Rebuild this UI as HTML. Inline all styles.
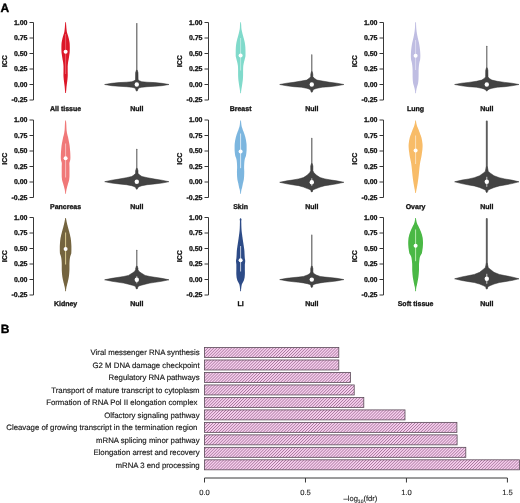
<!DOCTYPE html>
<html><head><meta charset="utf-8"><style>
html,body{margin:0;padding:0;background:#fff;}
svg{display:block;will-change:transform;}
text{font-family:"Liberation Sans",sans-serif;text-rendering:geometricPrecision;}
.tk{font-size:7px;font-weight:bold;fill:#111;stroke:#111;stroke-width:0.3px;}
.lb{font-size:7.8px;fill:#1a1a1a;stroke:#1a1a1a;stroke-width:0.16px;}
.ax{font-size:7.6px;fill:#1a1a1a;stroke:#1a1a1a;stroke-width:0.12px;}
.pl{font-size:12px;font-weight:bold;fill:#000;stroke:#000;stroke-width:0.35px;}
.axl{stroke:#383838;stroke-width:1;fill:none;}
.nv{fill:#434343;stroke:#2c2c2c;stroke-width:0.5;stroke-linejoin:round;}
.bar{fill:url(#hatch);stroke:#5a4a58;stroke-width:0.8;}
</style></head><body>
<svg width="520" height="503" viewBox="0 0 520 503">
<defs>
<pattern id="hatch" patternUnits="userSpaceOnUse" width="2.1" height="2.1" patternTransform="rotate(-45)">
<rect width="2.1" height="2.1" fill="#f2bde6"/>
<rect width="2.1" height="0.6" fill="#9c6c92"/>
<rect y="1.2" width="2.1" height="0.6" fill="#fbe4f6"/>
</pattern>

</defs>
<rect width="520" height="503" fill="#fff"/>
<g>
<path d="M33.5,22.5 V100" class="axl"/>
<path d="M29.5,22.5 H33.5" class="axl"/>
<text x="27.5" y="24.95" text-anchor="end" class="tk">1.00</text>
<path d="M29.5,38 H33.5" class="axl"/>
<text x="27.5" y="40.45" text-anchor="end" class="tk">0.75</text>
<path d="M29.5,53.5 H33.5" class="axl"/>
<text x="27.5" y="55.95" text-anchor="end" class="tk">0.50</text>
<path d="M29.5,69 H33.5" class="axl"/>
<text x="27.5" y="71.45" text-anchor="end" class="tk">0.25</text>
<path d="M29.5,84.5 H33.5" class="axl"/>
<text x="27.5" y="86.95" text-anchor="end" class="tk">0.00</text>
<path d="M29.5,100 H33.5" class="axl"/>
<text x="27.5" y="102.45" text-anchor="end" class="tk">-0.25</text>
<text x="7.35" y="61.2" transform="rotate(-90 7.35 61.2)" text-anchor="middle" class="tk">ICC</text>
<path d="M65.9,22.3 L66.05,22.74 L66.05,23.19 L66.05,23.63 L66.08,24.08 L66.12,24.52 L66.16,24.97 L66.2,25.41 L66.24,25.86 L66.27,26.3 L66.31,26.75 L66.34,27.19 L66.37,27.64 L66.41,28.08 L66.45,28.53 L66.49,28.97 L66.54,29.41 L66.59,29.86 L66.65,30.3 L66.7,30.75 L66.77,31.19 L66.84,31.64 L66.91,32.08 L67.01,32.53 L67.13,32.97 L67.26,33.42 L67.41,33.86 L67.56,34.31 L67.71,34.75 L67.86,35.19 L68,35.64 L68.12,36.08 L68.25,36.53 L68.37,36.97 L68.49,37.42 L68.61,37.86 L68.72,38.31 L68.83,38.75 L68.93,39.2 L69.03,39.64 L69.12,40.09 L69.2,40.53 L69.29,40.98 L69.37,41.42 L69.45,41.86 L69.52,42.31 L69.59,42.75 L69.64,43.2 L69.68,43.64 L69.7,44.09 L69.72,44.53 L69.74,44.98 L69.75,45.42 L69.77,45.87 L69.78,46.31 L69.79,46.76 L69.8,47.2 L69.8,47.65 L69.8,48.09 L69.8,48.53 L69.79,48.98 L69.79,49.42 L69.78,49.87 L69.76,50.31 L69.75,50.76 L69.73,51.2 L69.71,51.65 L69.7,52.09 L69.66,52.54 L69.61,52.98 L69.55,53.43 L69.48,53.87 L69.41,54.32 L69.34,54.76 L69.27,55.2 L69.21,55.65 L69.14,56.09 L69.08,56.54 L69.01,56.98 L68.95,57.43 L68.88,57.87 L68.81,58.32 L68.74,58.76 L68.67,59.21 L68.59,59.65 L68.5,60.1 L68.41,60.54 L68.32,60.98 L68.24,61.43 L68.16,61.87 L68.09,62.32 L68.03,62.76 L67.98,63.21 L67.93,63.65 L67.88,64.1 L67.84,64.54 L67.8,64.99 L67.76,65.43 L67.73,65.88 L67.71,66.32 L67.7,66.77 L67.7,67.21 L67.7,67.65 L67.7,68.1 L67.7,68.54 L67.7,68.99 L67.7,69.43 L67.7,69.88 L67.7,70.32 L67.7,70.77 L67.7,71.21 L67.7,71.66 L67.71,72.1 L67.72,72.55 L67.72,72.99 L67.73,73.44 L67.74,73.88 L67.75,74.32 L67.75,74.77 L67.75,75.21 L67.74,75.66 L67.72,76.1 L67.7,76.55 L67.67,76.99 L67.63,77.44 L67.6,77.88 L67.56,78.33 L67.52,78.77 L67.48,79.22 L67.44,79.66 L67.39,80.11 L67.33,80.55 L67.27,80.99 L67.21,81.44 L67.15,81.88 L67.09,82.33 L67.03,82.77 L66.97,83.22 L66.92,83.66 L66.86,84.11 L66.8,84.55 L66.74,85 L66.68,85.44 L66.63,85.89 L66.57,86.33 L66.52,86.77 L66.48,87.22 L66.44,87.66 L66.4,88.11 L66.37,88.55 L66.33,89 L66.29,89.44 L66.26,89.89 L66.22,90.33 L66.17,90.78 L66.12,91.22 L66.07,91.67 L66.05,92.11 L66.05,92.56 L65.9,93 L65.3,93 L65.15,92.56 L65.15,92.11 L65.13,91.67 L65.08,91.22 L65.03,90.78 L64.98,90.33 L64.94,89.89 L64.91,89.44 L64.87,89 L64.83,88.55 L64.8,88.11 L64.76,87.66 L64.72,87.22 L64.68,86.77 L64.63,86.33 L64.57,85.89 L64.52,85.44 L64.46,85 L64.4,84.55 L64.34,84.11 L64.28,83.66 L64.23,83.22 L64.17,82.77 L64.11,82.33 L64.05,81.88 L63.99,81.44 L63.93,80.99 L63.87,80.55 L63.81,80.11 L63.76,79.66 L63.72,79.22 L63.68,78.77 L63.64,78.33 L63.6,77.88 L63.57,77.44 L63.53,76.99 L63.5,76.55 L63.48,76.1 L63.46,75.66 L63.45,75.21 L63.45,74.77 L63.45,74.32 L63.46,73.88 L63.47,73.44 L63.48,72.99 L63.48,72.55 L63.49,72.1 L63.5,71.66 L63.5,71.21 L63.5,70.77 L63.5,70.32 L63.5,69.88 L63.5,69.43 L63.5,68.99 L63.5,68.54 L63.5,68.1 L63.5,67.65 L63.5,67.21 L63.5,66.77 L63.49,66.32 L63.47,65.88 L63.44,65.43 L63.4,64.99 L63.36,64.54 L63.32,64.1 L63.27,63.65 L63.22,63.21 L63.17,62.76 L63.11,62.32 L63.04,61.87 L62.96,61.43 L62.88,60.98 L62.79,60.54 L62.7,60.1 L62.61,59.65 L62.53,59.21 L62.46,58.76 L62.39,58.32 L62.32,57.87 L62.25,57.43 L62.19,56.98 L62.12,56.54 L62.06,56.09 L61.99,55.65 L61.93,55.2 L61.86,54.76 L61.79,54.32 L61.72,53.87 L61.65,53.43 L61.59,52.98 L61.54,52.54 L61.5,52.09 L61.49,51.65 L61.47,51.2 L61.45,50.76 L61.44,50.31 L61.42,49.87 L61.41,49.42 L61.41,48.98 L61.4,48.53 L61.4,48.09 L61.4,47.65 L61.4,47.2 L61.41,46.76 L61.42,46.31 L61.43,45.87 L61.45,45.42 L61.46,44.98 L61.48,44.53 L61.5,44.09 L61.52,43.64 L61.56,43.2 L61.61,42.75 L61.68,42.31 L61.75,41.86 L61.83,41.42 L61.91,40.98 L62,40.53 L62.08,40.09 L62.17,39.64 L62.27,39.2 L62.37,38.75 L62.48,38.31 L62.59,37.86 L62.71,37.42 L62.83,36.97 L62.95,36.53 L63.08,36.08 L63.2,35.64 L63.34,35.19 L63.49,34.75 L63.64,34.31 L63.79,33.86 L63.94,33.42 L64.07,32.97 L64.19,32.53 L64.29,32.08 L64.36,31.64 L64.43,31.19 L64.5,30.75 L64.55,30.3 L64.61,29.86 L64.66,29.41 L64.71,28.97 L64.75,28.53 L64.79,28.08 L64.83,27.64 L64.86,27.19 L64.89,26.75 L64.93,26.3 L64.96,25.86 L65,25.41 L65.04,24.97 L65.08,24.52 L65.12,24.08 L65.15,23.63 L65.15,23.19 L65.15,22.74 L65.3,22.3Z" fill="#dc1728"/>
<path d="M65.6,34 V74" stroke="#fff" stroke-opacity="0.3" stroke-width="1"/>
<circle cx="65.6" cy="51.7" r="2" fill="#fff"/>
<text x="65.6" y="111.1" text-anchor="middle" class="tk">All tissue</text>
<path d="M137.15,70.1 L138,72.6 L138.1,79.66 L139.4,80.8 L141.7,81.68 L147,82.2 L154.5,82.6 L161.8,83.3 L169,84.5 L161.8,85.7 L154.5,86.3 L147,86.7 L141.7,87.3 L139.4,87.8 L138,88.7 L137.7,90.1 L137.1,91.1 L136.5,91.1 L135.9,90.1 L135.6,88.7 L134.2,87.8 L131.9,87.3 L126.6,86.7 L119.1,86.3 L111.8,85.7 L104.6,84.5 L111.8,83.3 L119.1,82.6 L126.6,82.2 L131.9,81.68 L134.2,80.8 L135.5,79.66 L135.6,72.6 L136.45,70.1Z" class="nv"/>
<path d="M136.8,23.5 V72.1" stroke="#4a4a4a" stroke-width="1.15" stroke-opacity="0.9" stroke-linecap="round"/>
<circle cx="136.8" cy="84.5" r="2.2" fill="#fff"/>
<text x="136.8" y="111.1" text-anchor="middle" class="tk">Null</text>
<path d="M208.5,22.5 V100" class="axl"/>
<path d="M204.5,22.5 H208.5" class="axl"/>
<text x="202.5" y="24.95" text-anchor="end" class="tk">1.00</text>
<path d="M204.5,38 H208.5" class="axl"/>
<text x="202.5" y="40.45" text-anchor="end" class="tk">0.75</text>
<path d="M204.5,53.5 H208.5" class="axl"/>
<text x="202.5" y="55.95" text-anchor="end" class="tk">0.50</text>
<path d="M204.5,69 H208.5" class="axl"/>
<text x="202.5" y="71.45" text-anchor="end" class="tk">0.25</text>
<path d="M204.5,84.5 H208.5" class="axl"/>
<text x="202.5" y="86.95" text-anchor="end" class="tk">0.00</text>
<path d="M204.5,100 H208.5" class="axl"/>
<text x="202.5" y="102.45" text-anchor="end" class="tk">-0.25</text>
<text x="182.35" y="61.2" transform="rotate(-90 182.35 61.2)" text-anchor="middle" class="tk">ICC</text>
<path d="M240.9,22.3 L241.05,22.75 L241.05,23.19 L241.07,23.64 L241.12,24.08 L241.16,24.53 L241.2,24.98 L241.23,25.42 L241.25,25.87 L241.27,26.31 L241.28,26.76 L241.3,27.21 L241.33,27.65 L241.36,28.1 L241.41,28.54 L241.47,28.99 L241.54,29.43 L241.63,29.88 L241.73,30.33 L241.83,30.77 L241.93,31.22 L242.03,31.66 L242.12,32.11 L242.22,32.56 L242.33,33 L242.44,33.45 L242.55,33.89 L242.66,34.34 L242.78,34.79 L242.9,35.23 L243.02,35.68 L243.13,36.12 L243.25,36.57 L243.38,37.02 L243.51,37.46 L243.64,37.91 L243.77,38.35 L243.89,38.8 L244.01,39.24 L244.13,39.69 L244.23,40.14 L244.33,40.58 L244.44,41.03 L244.54,41.47 L244.63,41.92 L244.72,42.37 L244.81,42.81 L244.89,43.26 L244.96,43.7 L245.02,44.15 L245.08,44.6 L245.14,45.04 L245.19,45.49 L245.24,45.93 L245.29,46.38 L245.33,46.83 L245.36,47.27 L245.39,47.72 L245.41,48.16 L245.42,48.61 L245.44,49.05 L245.46,49.5 L245.47,49.95 L245.48,50.39 L245.49,50.84 L245.5,51.28 L245.5,51.73 L245.5,52.18 L245.5,52.62 L245.5,53.07 L245.5,53.51 L245.5,53.96 L245.5,54.41 L245.5,54.85 L245.5,55.3 L245.49,55.74 L245.45,56.19 L245.38,56.64 L245.29,57.08 L245.18,57.53 L245.06,57.97 L244.94,58.42 L244.83,58.86 L244.73,59.31 L244.62,59.76 L244.5,60.2 L244.38,60.65 L244.26,61.09 L244.14,61.54 L244.02,61.99 L243.92,62.43 L243.82,62.88 L243.74,63.32 L243.65,63.77 L243.57,64.22 L243.49,64.66 L243.41,65.11 L243.34,65.55 L243.28,66 L243.24,66.45 L243.21,66.89 L243.19,67.34 L243.17,67.78 L243.15,68.23 L243.14,68.67 L243.13,69.12 L243.12,69.57 L243.11,70.01 L243.1,70.46 L243.1,70.9 L243.1,71.35 L243.1,71.8 L243.1,72.24 L243.1,72.69 L243.1,73.13 L243.1,73.58 L243.1,74.03 L243.1,74.47 L243.1,74.92 L243.1,75.36 L243.09,75.81 L243.07,76.26 L243.05,76.7 L243.03,77.15 L243,77.59 L242.97,78.04 L242.94,78.48 L242.9,78.93 L242.87,79.38 L242.83,79.82 L242.78,80.27 L242.72,80.71 L242.66,81.16 L242.6,81.61 L242.53,82.05 L242.47,82.5 L242.41,82.94 L242.35,83.39 L242.28,83.84 L242.22,84.28 L242.15,84.73 L242.08,85.17 L242.02,85.62 L241.95,86.07 L241.88,86.51 L241.81,86.96 L241.73,87.4 L241.66,87.85 L241.58,88.29 L241.5,88.74 L241.43,89.19 L241.35,89.63 L241.29,90.08 L241.23,90.52 L241.17,90.97 L241.11,91.42 L241.05,91.86 L241.05,92.31 L241.05,92.75 L240.9,93.2 L240.3,93.2 L240.15,92.75 L240.15,92.31 L240.15,91.86 L240.09,91.42 L240.03,90.97 L239.97,90.52 L239.91,90.08 L239.85,89.63 L239.77,89.19 L239.7,88.74 L239.62,88.29 L239.54,87.85 L239.47,87.4 L239.39,86.96 L239.32,86.51 L239.25,86.07 L239.18,85.62 L239.12,85.17 L239.05,84.73 L238.98,84.28 L238.92,83.84 L238.85,83.39 L238.79,82.94 L238.73,82.5 L238.67,82.05 L238.6,81.61 L238.54,81.16 L238.48,80.71 L238.42,80.27 L238.37,79.82 L238.33,79.38 L238.3,78.93 L238.26,78.48 L238.23,78.04 L238.2,77.59 L238.17,77.15 L238.15,76.7 L238.13,76.26 L238.11,75.81 L238.1,75.36 L238.1,74.92 L238.1,74.47 L238.1,74.03 L238.1,73.58 L238.1,73.13 L238.1,72.69 L238.1,72.24 L238.1,71.8 L238.1,71.35 L238.1,70.9 L238.1,70.46 L238.09,70.01 L238.08,69.57 L238.07,69.12 L238.06,68.67 L238.05,68.23 L238.03,67.78 L238.01,67.34 L237.99,66.89 L237.96,66.45 L237.92,66 L237.86,65.55 L237.79,65.11 L237.71,64.66 L237.63,64.22 L237.55,63.77 L237.46,63.32 L237.38,62.88 L237.28,62.43 L237.18,61.99 L237.06,61.54 L236.94,61.09 L236.82,60.65 L236.7,60.2 L236.58,59.76 L236.47,59.31 L236.37,58.86 L236.26,58.42 L236.14,57.97 L236.02,57.53 L235.91,57.08 L235.82,56.64 L235.75,56.19 L235.71,55.74 L235.7,55.3 L235.7,54.85 L235.7,54.41 L235.7,53.96 L235.7,53.51 L235.7,53.07 L235.7,52.62 L235.7,52.18 L235.7,51.73 L235.7,51.28 L235.71,50.84 L235.72,50.39 L235.73,49.95 L235.74,49.5 L235.76,49.05 L235.78,48.61 L235.79,48.16 L235.81,47.72 L235.84,47.27 L235.87,46.83 L235.91,46.38 L235.96,45.93 L236.01,45.49 L236.06,45.04 L236.12,44.6 L236.18,44.15 L236.24,43.7 L236.31,43.26 L236.39,42.81 L236.48,42.37 L236.57,41.92 L236.66,41.47 L236.76,41.03 L236.87,40.58 L236.97,40.14 L237.07,39.69 L237.19,39.24 L237.31,38.8 L237.43,38.35 L237.56,37.91 L237.69,37.46 L237.82,37.02 L237.95,36.57 L238.07,36.12 L238.18,35.68 L238.3,35.23 L238.42,34.79 L238.54,34.34 L238.65,33.89 L238.76,33.45 L238.87,33 L238.98,32.56 L239.08,32.11 L239.17,31.66 L239.27,31.22 L239.37,30.77 L239.47,30.33 L239.57,29.88 L239.66,29.43 L239.73,28.99 L239.79,28.54 L239.84,28.1 L239.87,27.65 L239.9,27.21 L239.92,26.76 L239.93,26.31 L239.95,25.87 L239.97,25.42 L240,24.98 L240.04,24.53 L240.08,24.08 L240.13,23.64 L240.15,23.19 L240.15,22.75 L240.3,22.3Z" fill="#80dacb"/>
<path d="M240.6,38 V70.5" stroke="#fff" stroke-opacity="0.45" stroke-width="1"/>
<circle cx="240.6" cy="55.4" r="2" fill="#fff"/>
<text x="240.6" y="111.1" text-anchor="middle" class="tk">Breast</text>
<path d="M312.15,71.6 L312.8,74.1 L312.9,76.76 L314.6,78.52 L316.9,80.1 L322.2,81 L329.7,82.3 L336.8,83.2 L343.9,84.5 L336.8,85.8 L329.7,86.7 L322.2,87.2 L316.9,88.3 L314.6,89 L312.9,90.1 L312.7,91.2 L312.1,92.2 L311.5,92.2 L310.9,91.2 L310.7,90.1 L309,89 L306.7,88.3 L301.4,87.2 L293.9,86.7 L286.8,85.8 L279.7,84.5 L286.8,83.2 L293.9,82.3 L301.4,81 L306.7,80.1 L309,78.52 L310.7,76.76 L310.8,74.1 L311.45,71.6Z" class="nv"/>
<path d="M311.8,54.8 V73.6" stroke="#4a4a4a" stroke-width="1.1" stroke-opacity="0.9" stroke-linecap="round"/>
<circle cx="311.8" cy="84.5" r="2.2" fill="#fff"/>
<text x="311.8" y="111.1" text-anchor="middle" class="tk">Null</text>
<path d="M383.5,22.5 V100" class="axl"/>
<path d="M379.5,22.5 H383.5" class="axl"/>
<text x="377.5" y="24.95" text-anchor="end" class="tk">1.00</text>
<path d="M379.5,38 H383.5" class="axl"/>
<text x="377.5" y="40.45" text-anchor="end" class="tk">0.75</text>
<path d="M379.5,53.5 H383.5" class="axl"/>
<text x="377.5" y="55.95" text-anchor="end" class="tk">0.50</text>
<path d="M379.5,69 H383.5" class="axl"/>
<text x="377.5" y="71.45" text-anchor="end" class="tk">0.25</text>
<path d="M379.5,84.5 H383.5" class="axl"/>
<text x="377.5" y="86.95" text-anchor="end" class="tk">0.00</text>
<path d="M379.5,100 H383.5" class="axl"/>
<text x="377.5" y="102.45" text-anchor="end" class="tk">-0.25</text>
<text x="357.35" y="61.2" transform="rotate(-90 357.35 61.2)" text-anchor="middle" class="tk">ICC</text>
<path d="M415.9,22.3 L416.05,22.75 L416.05,23.19 L416.05,23.64 L416.05,24.08 L416.07,24.53 L416.1,24.98 L416.12,25.42 L416.14,25.87 L416.16,26.31 L416.18,26.76 L416.2,27.21 L416.23,27.65 L416.26,28.1 L416.29,28.54 L416.33,28.99 L416.38,29.43 L416.43,29.88 L416.48,30.33 L416.54,30.77 L416.59,31.22 L416.65,31.66 L416.72,32.11 L416.78,32.56 L416.85,33 L416.92,33.45 L417,33.89 L417.08,34.34 L417.16,34.79 L417.25,35.23 L417.34,35.68 L417.42,36.12 L417.52,36.57 L417.61,37.02 L417.71,37.46 L417.81,37.91 L417.92,38.35 L418.02,38.8 L418.13,39.24 L418.23,39.69 L418.33,40.14 L418.43,40.58 L418.54,41.03 L418.65,41.47 L418.75,41.92 L418.86,42.37 L418.96,42.81 L419.06,43.26 L419.14,43.7 L419.23,44.15 L419.3,44.6 L419.38,45.04 L419.45,45.49 L419.52,45.93 L419.59,46.38 L419.65,46.83 L419.71,47.27 L419.77,47.72 L419.82,48.16 L419.87,48.61 L419.93,49.05 L419.98,49.5 L420.03,49.95 L420.07,50.39 L420.11,50.84 L420.15,51.28 L420.18,51.73 L420.21,52.18 L420.24,52.62 L420.26,53.07 L420.28,53.51 L420.3,53.96 L420.32,54.41 L420.34,54.85 L420.35,55.3 L420.35,55.74 L420.35,56.19 L420.34,56.64 L420.32,57.08 L420.3,57.53 L420.27,57.97 L420.24,58.42 L420.21,58.86 L420.17,59.31 L420.1,59.76 L420,60.2 L419.89,60.65 L419.77,61.09 L419.64,61.54 L419.52,61.99 L419.41,62.43 L419.32,62.88 L419.25,63.32 L419.18,63.77 L419.11,64.22 L419.05,64.66 L418.99,65.11 L418.94,65.55 L418.89,66 L418.84,66.45 L418.81,66.89 L418.78,67.34 L418.74,67.78 L418.71,68.23 L418.68,68.67 L418.66,69.12 L418.64,69.57 L418.62,70.01 L418.61,70.46 L418.6,70.9 L418.6,71.35 L418.6,71.8 L418.6,72.24 L418.6,72.69 L418.6,73.13 L418.6,73.58 L418.6,74.03 L418.6,74.47 L418.6,74.92 L418.6,75.36 L418.59,75.81 L418.59,76.26 L418.58,76.7 L418.57,77.15 L418.55,77.59 L418.54,78.04 L418.52,78.48 L418.5,78.93 L418.48,79.38 L418.46,79.82 L418.42,80.27 L418.38,80.71 L418.34,81.16 L418.29,81.61 L418.23,82.05 L418.17,82.5 L418.11,82.94 L418.03,83.39 L417.93,83.84 L417.82,84.28 L417.69,84.73 L417.55,85.17 L417.41,85.62 L417.27,86.07 L417.13,86.51 L417.01,86.96 L416.9,87.4 L416.78,87.85 L416.66,88.29 L416.56,88.74 L416.46,89.19 L416.38,89.63 L416.3,90.08 L416.23,90.52 L416.16,90.97 L416.09,91.42 L416.05,91.86 L416.05,92.31 L416.05,92.75 L415.9,93.2 L415.3,93.2 L415.15,92.75 L415.15,92.31 L415.15,91.86 L415.11,91.42 L415.04,90.97 L414.97,90.52 L414.9,90.08 L414.82,89.63 L414.74,89.19 L414.64,88.74 L414.54,88.29 L414.42,87.85 L414.3,87.4 L414.19,86.96 L414.07,86.51 L413.93,86.07 L413.79,85.62 L413.65,85.17 L413.51,84.73 L413.38,84.28 L413.27,83.84 L413.17,83.39 L413.09,82.94 L413.03,82.5 L412.97,82.05 L412.91,81.61 L412.86,81.16 L412.82,80.71 L412.78,80.27 L412.74,79.82 L412.72,79.38 L412.7,78.93 L412.68,78.48 L412.66,78.04 L412.65,77.59 L412.63,77.15 L412.62,76.7 L412.61,76.26 L412.61,75.81 L412.6,75.36 L412.6,74.92 L412.6,74.47 L412.6,74.03 L412.6,73.58 L412.6,73.13 L412.6,72.69 L412.6,72.24 L412.6,71.8 L412.6,71.35 L412.6,70.9 L412.59,70.46 L412.58,70.01 L412.56,69.57 L412.54,69.12 L412.52,68.67 L412.49,68.23 L412.46,67.78 L412.42,67.34 L412.39,66.89 L412.36,66.45 L412.31,66 L412.26,65.55 L412.21,65.11 L412.15,64.66 L412.09,64.22 L412.02,63.77 L411.95,63.32 L411.88,62.88 L411.79,62.43 L411.68,61.99 L411.56,61.54 L411.43,61.09 L411.31,60.65 L411.2,60.2 L411.1,59.76 L411.03,59.31 L410.99,58.86 L410.96,58.42 L410.93,57.97 L410.9,57.53 L410.88,57.08 L410.86,56.64 L410.85,56.19 L410.85,55.74 L410.85,55.3 L410.86,54.85 L410.88,54.41 L410.9,53.96 L410.92,53.51 L410.94,53.07 L410.96,52.62 L410.99,52.18 L411.02,51.73 L411.05,51.28 L411.09,50.84 L411.13,50.39 L411.17,49.95 L411.22,49.5 L411.27,49.05 L411.33,48.61 L411.38,48.16 L411.43,47.72 L411.49,47.27 L411.55,46.83 L411.61,46.38 L411.68,45.93 L411.75,45.49 L411.82,45.04 L411.9,44.6 L411.97,44.15 L412.06,43.7 L412.14,43.26 L412.24,42.81 L412.34,42.37 L412.45,41.92 L412.55,41.47 L412.66,41.03 L412.77,40.58 L412.87,40.14 L412.97,39.69 L413.07,39.24 L413.18,38.8 L413.28,38.35 L413.39,37.91 L413.49,37.46 L413.59,37.02 L413.68,36.57 L413.78,36.12 L413.86,35.68 L413.95,35.23 L414.04,34.79 L414.12,34.34 L414.2,33.89 L414.28,33.45 L414.35,33 L414.42,32.56 L414.48,32.11 L414.55,31.66 L414.61,31.22 L414.66,30.77 L414.72,30.33 L414.77,29.88 L414.82,29.43 L414.87,28.99 L414.91,28.54 L414.94,28.1 L414.97,27.65 L415,27.21 L415.02,26.76 L415.04,26.31 L415.06,25.87 L415.08,25.42 L415.1,24.98 L415.13,24.53 L415.15,24.08 L415.15,23.64 L415.15,23.19 L415.15,22.75 L415.3,22.3Z" fill="#bfbde2"/>
<path d="M415.6,40 V70" stroke="#fff" stroke-opacity="0.45" stroke-width="1"/>
<circle cx="415.6" cy="55.8" r="2" fill="#fff"/>
<text x="415.6" y="111.1" text-anchor="middle" class="tk">Lung</text>
<path d="M487.15,67.8 L487.9,70.3 L488,76.93 L489.6,78.69 L491.9,80.1 L497.2,81.3 L504.7,82.4 L511.8,83.2 L519,84.5 L511.8,85.8 L504.7,86.7 L497.2,87.2 L491.9,88.3 L489.6,88.9 L487.9,89.9 L487.7,90.1 L487.1,91.1 L486.5,91.1 L485.9,90.1 L485.7,89.9 L484,88.9 L481.7,88.3 L476.4,87.2 L468.9,86.7 L461.8,85.8 L454.6,84.5 L461.8,83.2 L468.9,82.4 L476.4,81.3 L481.7,80.1 L484,78.69 L485.6,76.93 L485.7,70.3 L486.45,67.8Z" class="nv"/>
<path d="M486.8,46.3 V69.8" stroke="#4a4a4a" stroke-width="1.1" stroke-opacity="0.9" stroke-linecap="round"/>
<circle cx="486.8" cy="84.5" r="2.2" fill="#fff"/>
<text x="486.8" y="111.1" text-anchor="middle" class="tk">Null</text>
<path d="M33.5,120 V197.5" class="axl"/>
<path d="M29.5,120 H33.5" class="axl"/>
<text x="27.5" y="122.45" text-anchor="end" class="tk">1.00</text>
<path d="M29.5,135.5 H33.5" class="axl"/>
<text x="27.5" y="137.95" text-anchor="end" class="tk">0.75</text>
<path d="M29.5,151 H33.5" class="axl"/>
<text x="27.5" y="153.45" text-anchor="end" class="tk">0.50</text>
<path d="M29.5,166.5 H33.5" class="axl"/>
<text x="27.5" y="168.95" text-anchor="end" class="tk">0.25</text>
<path d="M29.5,182 H33.5" class="axl"/>
<text x="27.5" y="184.45" text-anchor="end" class="tk">0.00</text>
<path d="M29.5,197.5 H33.5" class="axl"/>
<text x="27.5" y="199.95" text-anchor="end" class="tk">-0.25</text>
<text x="7.35" y="158.7" transform="rotate(-90 7.35 158.7)" text-anchor="middle" class="tk">ICC</text>
<path d="M65.9,120.5 L66.05,120.96 L66.05,121.42 L66.09,121.88 L66.15,122.34 L66.19,122.8 L66.23,123.26 L66.26,123.72 L66.29,124.18 L66.31,124.64 L66.33,125.1 L66.35,125.56 L66.37,126.02 L66.39,126.48 L66.41,126.95 L66.43,127.41 L66.45,127.87 L66.48,128.33 L66.5,128.79 L66.53,129.25 L66.57,129.71 L66.61,130.17 L66.66,130.63 L66.72,131.09 L66.78,131.55 L66.85,132.01 L66.92,132.47 L67,132.93 L67.08,133.39 L67.17,133.85 L67.27,134.31 L67.38,134.77 L67.5,135.23 L67.63,135.69 L67.76,136.15 L67.88,136.61 L68,137.07 L68.11,137.53 L68.21,137.99 L68.31,138.45 L68.4,138.92 L68.49,139.38 L68.58,139.84 L68.67,140.3 L68.76,140.76 L68.85,141.22 L68.93,141.68 L69.02,142.14 L69.11,142.6 L69.2,143.06 L69.28,143.52 L69.37,143.98 L69.44,144.44 L69.52,144.9 L69.58,145.36 L69.64,145.82 L69.69,146.28 L69.74,146.74 L69.79,147.2 L69.84,147.66 L69.88,148.12 L69.92,148.58 L69.96,149.04 L70,149.5 L70.04,149.96 L70.08,150.42 L70.12,150.88 L70.16,151.35 L70.2,151.81 L70.23,152.27 L70.26,152.73 L70.29,153.19 L70.31,153.65 L70.32,154.11 L70.34,154.57 L70.35,155.03 L70.37,155.49 L70.38,155.95 L70.39,156.41 L70.4,156.87 L70.4,157.33 L70.4,157.79 L70.38,158.25 L70.36,158.71 L70.32,159.17 L70.29,159.63 L70.21,160.09 L70.1,160.55 L69.97,161.01 L69.82,161.47 L69.68,161.93 L69.55,162.39 L69.46,162.85 L69.4,163.32 L69.4,163.78 L69.41,164.24 L69.42,164.7 L69.44,165.16 L69.45,165.62 L69.47,166.08 L69.49,166.54 L69.5,167 L69.5,167.46 L69.5,167.92 L69.5,168.38 L69.5,168.84 L69.5,169.3 L69.5,169.76 L69.5,170.22 L69.5,170.68 L69.5,171.14 L69.5,171.6 L69.5,172.06 L69.5,172.52 L69.5,172.98 L69.5,173.44 L69.5,173.9 L69.5,174.36 L69.5,174.82 L69.5,175.28 L69.5,175.75 L69.49,176.21 L69.47,176.67 L69.44,177.13 L69.4,177.59 L69.36,178.05 L69.31,178.51 L69.26,178.97 L69.21,179.43 L69.14,179.89 L69.05,180.35 L68.93,180.81 L68.8,181.27 L68.66,181.73 L68.51,182.19 L68.36,182.65 L68.21,183.11 L68.08,183.57 L67.95,184.03 L67.82,184.49 L67.69,184.95 L67.56,185.41 L67.44,185.87 L67.31,186.33 L67.18,186.79 L67.06,187.25 L66.94,187.72 L66.82,188.18 L66.7,188.64 L66.59,189.1 L66.49,189.56 L66.4,190.02 L66.32,190.48 L66.24,190.94 L66.17,191.4 L66.1,191.86 L66.05,192.32 L66.05,192.78 L66.05,193.24 L65.9,193.7 L65.3,193.7 L65.15,193.24 L65.15,192.78 L65.15,192.32 L65.1,191.86 L65.03,191.4 L64.96,190.94 L64.88,190.48 L64.8,190.02 L64.71,189.56 L64.61,189.1 L64.5,188.64 L64.38,188.18 L64.26,187.72 L64.14,187.25 L64.02,186.79 L63.89,186.33 L63.76,185.87 L63.64,185.41 L63.51,184.95 L63.38,184.49 L63.25,184.03 L63.12,183.57 L62.99,183.11 L62.84,182.65 L62.69,182.19 L62.54,181.73 L62.4,181.27 L62.27,180.81 L62.15,180.35 L62.06,179.89 L61.99,179.43 L61.94,178.97 L61.89,178.51 L61.84,178.05 L61.8,177.59 L61.76,177.13 L61.73,176.67 L61.71,176.21 L61.7,175.75 L61.7,175.28 L61.7,174.82 L61.7,174.36 L61.7,173.9 L61.7,173.44 L61.7,172.98 L61.7,172.52 L61.7,172.06 L61.7,171.6 L61.7,171.14 L61.7,170.68 L61.7,170.22 L61.7,169.76 L61.7,169.3 L61.7,168.84 L61.7,168.38 L61.7,167.92 L61.7,167.46 L61.7,167 L61.71,166.54 L61.73,166.08 L61.75,165.62 L61.76,165.16 L61.78,164.7 L61.79,164.24 L61.8,163.78 L61.8,163.32 L61.74,162.85 L61.65,162.39 L61.52,161.93 L61.38,161.47 L61.23,161.01 L61.1,160.55 L60.99,160.09 L60.91,159.63 L60.88,159.17 L60.84,158.71 L60.82,158.25 L60.8,157.79 L60.8,157.33 L60.8,156.87 L60.81,156.41 L60.82,155.95 L60.83,155.49 L60.85,155.03 L60.86,154.57 L60.88,154.11 L60.89,153.65 L60.91,153.19 L60.94,152.73 L60.97,152.27 L61,151.81 L61.04,151.35 L61.08,150.88 L61.12,150.42 L61.16,149.96 L61.2,149.5 L61.24,149.04 L61.28,148.58 L61.32,148.12 L61.36,147.66 L61.41,147.2 L61.46,146.74 L61.51,146.28 L61.56,145.82 L61.62,145.36 L61.68,144.9 L61.76,144.44 L61.83,143.98 L61.92,143.52 L62,143.06 L62.09,142.6 L62.18,142.14 L62.27,141.68 L62.35,141.22 L62.44,140.76 L62.53,140.3 L62.62,139.84 L62.71,139.38 L62.8,138.92 L62.89,138.45 L62.99,137.99 L63.09,137.53 L63.2,137.07 L63.32,136.61 L63.44,136.15 L63.57,135.69 L63.7,135.23 L63.82,134.77 L63.93,134.31 L64.03,133.85 L64.12,133.39 L64.2,132.93 L64.28,132.47 L64.35,132.01 L64.42,131.55 L64.48,131.09 L64.54,130.63 L64.59,130.17 L64.63,129.71 L64.67,129.25 L64.7,128.79 L64.72,128.33 L64.75,127.87 L64.77,127.41 L64.79,126.95 L64.81,126.48 L64.83,126.02 L64.85,125.56 L64.87,125.1 L64.89,124.64 L64.91,124.18 L64.94,123.72 L64.97,123.26 L65.01,122.8 L65.05,122.34 L65.11,121.88 L65.15,121.42 L65.15,120.96 L65.3,120.5Z" fill="#f07878"/>
<path d="M65.6,143.5 V177.5" stroke="#fff" stroke-opacity="0.5" stroke-width="1"/>
<circle cx="65.6" cy="158.2" r="2" fill="#fff"/>
<text x="65.6" y="208.6" text-anchor="middle" class="tk">Pancreas</text>
<path d="M137.15,168.2 L138,170.7 L138,173.34 L139.6,175.01 L141.9,176.51 L147.2,177.7 L154.7,179.1 L161.8,180.2 L168.9,181.7 L161.8,183.1 L154.7,183.9 L147.2,184.7 L141.9,185.7 L139.6,186.5 L137.9,187.5 L137.7,188.2 L137.1,189.2 L136.5,189.2 L135.9,188.2 L135.7,187.5 L134,186.5 L131.7,185.7 L126.4,184.7 L118.9,183.9 L111.8,183.1 L104.7,181.7 L111.8,180.2 L118.9,179.1 L126.4,177.7 L131.7,176.51 L134,175.01 L135.6,173.34 L135.6,170.7 L136.45,168.2Z" class="nv"/>
<path d="M136.8,149.3 V170.2" stroke="#4a4a4a" stroke-width="1.1" stroke-opacity="0.9" stroke-linecap="round"/>
<circle cx="136.8" cy="181.7" r="2.2" fill="#fff"/>
<text x="136.8" y="208.6" text-anchor="middle" class="tk">Null</text>
<path d="M208.5,120 V197.5" class="axl"/>
<path d="M204.5,120 H208.5" class="axl"/>
<text x="202.5" y="122.45" text-anchor="end" class="tk">1.00</text>
<path d="M204.5,135.5 H208.5" class="axl"/>
<text x="202.5" y="137.95" text-anchor="end" class="tk">0.75</text>
<path d="M204.5,151 H208.5" class="axl"/>
<text x="202.5" y="153.45" text-anchor="end" class="tk">0.50</text>
<path d="M204.5,166.5 H208.5" class="axl"/>
<text x="202.5" y="168.95" text-anchor="end" class="tk">0.25</text>
<path d="M204.5,182 H208.5" class="axl"/>
<text x="202.5" y="184.45" text-anchor="end" class="tk">0.00</text>
<path d="M204.5,197.5 H208.5" class="axl"/>
<text x="202.5" y="199.95" text-anchor="end" class="tk">-0.25</text>
<text x="182.35" y="158.7" transform="rotate(-90 182.35 158.7)" text-anchor="middle" class="tk">ICC</text>
<path d="M240.9,120.5 L241.05,120.96 L241.05,121.42 L241.07,121.88 L241.12,122.34 L241.18,122.8 L241.23,123.26 L241.28,123.72 L241.33,124.18 L241.38,124.64 L241.44,125.1 L241.51,125.56 L241.6,126.02 L241.71,126.48 L241.84,126.95 L241.99,127.41 L242.14,127.87 L242.3,128.33 L242.46,128.79 L242.61,129.25 L242.77,129.71 L242.94,130.17 L243.11,130.63 L243.29,131.09 L243.47,131.55 L243.65,132.01 L243.83,132.47 L244,132.93 L244.16,133.39 L244.32,133.85 L244.47,134.31 L244.62,134.77 L244.76,135.23 L244.91,135.69 L245.04,136.15 L245.17,136.61 L245.29,137.07 L245.41,137.53 L245.52,137.99 L245.62,138.45 L245.73,138.92 L245.83,139.38 L245.92,139.84 L246.01,140.3 L246.09,140.76 L246.16,141.22 L246.22,141.68 L246.29,142.14 L246.35,142.6 L246.41,143.06 L246.47,143.52 L246.52,143.98 L246.56,144.44 L246.59,144.9 L246.6,145.36 L246.6,145.82 L246.6,146.28 L246.6,146.74 L246.6,147.2 L246.6,147.66 L246.6,148.12 L246.6,148.58 L246.6,149.04 L246.6,149.5 L246.59,149.96 L246.57,150.42 L246.54,150.88 L246.5,151.35 L246.46,151.81 L246.42,152.27 L246.38,152.73 L246.33,153.19 L246.28,153.65 L246.22,154.11 L246.16,154.57 L246.08,155.03 L246,155.49 L245.9,155.95 L245.76,156.41 L245.59,156.87 L245.41,157.33 L245.23,157.79 L245.05,158.25 L244.89,158.71 L244.77,159.17 L244.68,159.63 L244.61,160.09 L244.54,160.55 L244.48,161.01 L244.42,161.47 L244.37,161.93 L244.33,162.39 L244.29,162.85 L244.26,163.32 L244.23,163.78 L244.21,164.24 L244.18,164.7 L244.16,165.16 L244.14,165.62 L244.13,166.08 L244.11,166.54 L244.1,167 L244.1,167.46 L244.1,167.92 L244.12,168.38 L244.14,168.84 L244.16,169.3 L244.19,169.76 L244.21,170.22 L244.23,170.68 L244.25,171.14 L244.25,171.6 L244.25,172.06 L244.24,172.52 L244.23,172.98 L244.22,173.44 L244.21,173.9 L244.19,174.36 L244.18,174.82 L244.16,175.28 L244.14,175.75 L244.12,176.21 L244.09,176.67 L244.05,177.13 L244.01,177.59 L243.97,178.05 L243.92,178.51 L243.86,178.97 L243.81,179.43 L243.74,179.89 L243.66,180.35 L243.56,180.81 L243.45,181.27 L243.33,181.73 L243.22,182.19 L243.1,182.65 L242.99,183.11 L242.88,183.57 L242.79,184.03 L242.7,184.49 L242.61,184.95 L242.53,185.41 L242.44,185.87 L242.35,186.33 L242.26,186.79 L242.16,187.25 L242.05,187.72 L241.91,188.18 L241.77,188.64 L241.63,189.1 L241.5,189.56 L241.4,190.02 L241.31,190.48 L241.23,190.94 L241.15,191.4 L241.09,191.86 L241.05,192.32 L241.05,192.78 L241.05,193.24 L240.9,193.7 L240.3,193.7 L240.15,193.24 L240.15,192.78 L240.15,192.32 L240.11,191.86 L240.05,191.4 L239.97,190.94 L239.89,190.48 L239.8,190.02 L239.7,189.56 L239.57,189.1 L239.43,188.64 L239.29,188.18 L239.15,187.72 L239.04,187.25 L238.94,186.79 L238.85,186.33 L238.76,185.87 L238.67,185.41 L238.59,184.95 L238.5,184.49 L238.41,184.03 L238.32,183.57 L238.21,183.11 L238.1,182.65 L237.98,182.19 L237.87,181.73 L237.75,181.27 L237.64,180.81 L237.54,180.35 L237.46,179.89 L237.39,179.43 L237.34,178.97 L237.28,178.51 L237.23,178.05 L237.19,177.59 L237.15,177.13 L237.11,176.67 L237.08,176.21 L237.06,175.75 L237.04,175.28 L237.02,174.82 L237.01,174.36 L236.99,173.9 L236.98,173.44 L236.97,172.98 L236.96,172.52 L236.95,172.06 L236.95,171.6 L236.95,171.14 L236.97,170.68 L236.99,170.22 L237.01,169.76 L237.04,169.3 L237.06,168.84 L237.08,168.38 L237.1,167.92 L237.1,167.46 L237.1,167 L237.09,166.54 L237.07,166.08 L237.06,165.62 L237.04,165.16 L237.02,164.7 L236.99,164.24 L236.97,163.78 L236.94,163.32 L236.91,162.85 L236.87,162.39 L236.83,161.93 L236.78,161.47 L236.72,161.01 L236.66,160.55 L236.59,160.09 L236.52,159.63 L236.43,159.17 L236.31,158.71 L236.15,158.25 L235.97,157.79 L235.79,157.33 L235.61,156.87 L235.44,156.41 L235.3,155.95 L235.2,155.49 L235.12,155.03 L235.04,154.57 L234.98,154.11 L234.92,153.65 L234.87,153.19 L234.82,152.73 L234.78,152.27 L234.74,151.81 L234.7,151.35 L234.66,150.88 L234.63,150.42 L234.61,149.96 L234.6,149.5 L234.6,149.04 L234.6,148.58 L234.6,148.12 L234.6,147.66 L234.6,147.2 L234.6,146.74 L234.6,146.28 L234.6,145.82 L234.6,145.36 L234.61,144.9 L234.64,144.44 L234.68,143.98 L234.73,143.52 L234.79,143.06 L234.85,142.6 L234.91,142.14 L234.98,141.68 L235.04,141.22 L235.11,140.76 L235.19,140.3 L235.28,139.84 L235.37,139.38 L235.47,138.92 L235.58,138.45 L235.68,137.99 L235.79,137.53 L235.91,137.07 L236.03,136.61 L236.16,136.15 L236.29,135.69 L236.44,135.23 L236.58,134.77 L236.73,134.31 L236.88,133.85 L237.04,133.39 L237.2,132.93 L237.37,132.47 L237.55,132.01 L237.73,131.55 L237.91,131.09 L238.09,130.63 L238.26,130.17 L238.43,129.71 L238.59,129.25 L238.74,128.79 L238.9,128.33 L239.06,127.87 L239.21,127.41 L239.36,126.95 L239.49,126.48 L239.6,126.02 L239.69,125.56 L239.76,125.1 L239.82,124.64 L239.87,124.18 L239.92,123.72 L239.97,123.26 L240.02,122.8 L240.08,122.34 L240.13,121.88 L240.15,121.42 L240.15,120.96 L240.3,120.5Z" fill="#7cb6df"/>
<path d="M240.6,133.5 V168.2" stroke="#fff" stroke-opacity="0.7" stroke-width="1"/>
<circle cx="240.6" cy="151.6" r="2" fill="#fff"/>
<text x="240.6" y="208.6" text-anchor="middle" class="tk">Skin</text>
<path d="M312.15,163.5 L312.9,166 L312.9,170.7 L313.8,172.54 L316.2,175.04 L320.1,177.61 L324.9,178.89 L329.7,179.83 L336.8,180.87 L343.9,182.3 L336.8,183.8 L329.7,184.97 L324.9,185.64 L320.1,187.06 L316.2,188.61 L313.8,189.4 L312.7,190.5 L312.7,191 L312.1,192 L311.5,192 L310.9,191 L310.9,190.5 L309.8,189.4 L307.4,188.61 L303.5,187.06 L298.7,185.64 L293.9,184.97 L286.8,183.8 L279.7,182.3 L286.8,180.87 L293.9,179.83 L298.7,178.89 L303.5,177.61 L307.4,175.04 L309.8,172.54 L310.7,170.7 L310.7,166 L311.45,163.5Z" class="nv"/>
<path d="M311.8,138.4 V165.5" stroke="#4a4a4a" stroke-width="1.15" stroke-opacity="0.9" stroke-linecap="round"/>
<circle cx="311.8" cy="182.3" r="2.2" fill="#fff"/>
<path d="M311.8,178.3 V185.8" stroke="#fff" stroke-width="0.9" stroke-opacity="0.8"/>
<text x="311.8" y="208.6" text-anchor="middle" class="tk">Null</text>
<path d="M383.5,120 V197.5" class="axl"/>
<path d="M379.5,120 H383.5" class="axl"/>
<text x="377.5" y="122.45" text-anchor="end" class="tk">1.00</text>
<path d="M379.5,135.5 H383.5" class="axl"/>
<text x="377.5" y="137.95" text-anchor="end" class="tk">0.75</text>
<path d="M379.5,151 H383.5" class="axl"/>
<text x="377.5" y="153.45" text-anchor="end" class="tk">0.50</text>
<path d="M379.5,166.5 H383.5" class="axl"/>
<text x="377.5" y="168.95" text-anchor="end" class="tk">0.25</text>
<path d="M379.5,182 H383.5" class="axl"/>
<text x="377.5" y="184.45" text-anchor="end" class="tk">0.00</text>
<path d="M379.5,197.5 H383.5" class="axl"/>
<text x="377.5" y="199.95" text-anchor="end" class="tk">-0.25</text>
<text x="357.35" y="158.7" transform="rotate(-90 357.35 158.7)" text-anchor="middle" class="tk">ICC</text>
<path d="M415.9,120.5 L416.05,120.96 L416.05,121.41 L416.1,121.87 L416.17,122.32 L416.26,122.78 L416.35,123.24 L416.44,123.69 L416.54,124.15 L416.65,124.6 L416.78,125.06 L416.9,125.52 L417.05,125.97 L417.22,126.43 L417.39,126.88 L417.59,127.34 L417.78,127.8 L417.98,128.25 L418.18,128.71 L418.37,129.16 L418.55,129.62 L418.72,130.08 L418.9,130.53 L419.07,130.99 L419.24,131.44 L419.41,131.9 L419.58,132.36 L419.75,132.81 L419.92,133.27 L420.08,133.72 L420.25,134.18 L420.43,134.64 L420.6,135.09 L420.77,135.55 L420.94,136 L421.09,136.46 L421.24,136.92 L421.37,137.37 L421.48,137.83 L421.59,138.28 L421.7,138.74 L421.8,139.19 L421.89,139.65 L421.98,140.11 L422.06,140.56 L422.13,141.02 L422.2,141.47 L422.26,141.93 L422.32,142.39 L422.38,142.84 L422.44,143.3 L422.5,143.75 L422.54,144.21 L422.57,144.67 L422.59,145.12 L422.6,145.58 L422.59,146.03 L422.58,146.49 L422.57,146.95 L422.54,147.4 L422.52,147.86 L422.49,148.31 L422.45,148.77 L422.42,149.23 L422.39,149.68 L422.34,150.14 L422.28,150.59 L422.21,151.05 L422.15,151.51 L422.08,151.96 L422.01,152.42 L421.95,152.87 L421.89,153.33 L421.84,153.79 L421.78,154.24 L421.72,154.7 L421.65,155.15 L421.58,155.61 L421.5,156.07 L421.42,156.52 L421.33,156.98 L421.23,157.43 L421.14,157.89 L421.04,158.35 L420.94,158.8 L420.85,159.26 L420.76,159.71 L420.66,160.17 L420.56,160.63 L420.47,161.08 L420.37,161.54 L420.27,161.99 L420.18,162.45 L420.1,162.91 L420.02,163.36 L419.95,163.82 L419.89,164.27 L419.83,164.73 L419.77,165.19 L419.71,165.64 L419.66,166.1 L419.61,166.55 L419.55,167.01 L419.5,167.47 L419.45,167.92 L419.41,168.38 L419.36,168.83 L419.31,169.29 L419.27,169.75 L419.23,170.2 L419.18,170.66 L419.14,171.11 L419.09,171.57 L419.05,172.03 L419,172.48 L418.96,172.94 L418.92,173.39 L418.87,173.85 L418.83,174.31 L418.78,174.76 L418.73,175.22 L418.68,175.67 L418.63,176.13 L418.57,176.58 L418.52,177.04 L418.46,177.5 L418.41,177.95 L418.35,178.41 L418.29,178.86 L418.22,179.32 L418.16,179.78 L418.1,180.23 L418.03,180.69 L417.97,181.14 L417.9,181.6 L417.83,182.06 L417.76,182.51 L417.69,182.97 L417.61,183.42 L417.54,183.88 L417.46,184.34 L417.39,184.79 L417.31,185.25 L417.23,185.7 L417.15,186.16 L417.06,186.62 L416.98,187.07 L416.89,187.53 L416.81,187.98 L416.71,188.44 L416.62,188.9 L416.52,189.35 L416.44,189.81 L416.35,190.26 L416.27,190.72 L416.19,191.18 L416.12,191.63 L416.05,192.09 L416.05,192.54 L415.9,193 L415.3,193 L415.15,192.54 L415.15,192.09 L415.08,191.63 L415.01,191.18 L414.93,190.72 L414.85,190.26 L414.76,189.81 L414.68,189.35 L414.58,188.9 L414.49,188.44 L414.39,187.98 L414.31,187.53 L414.22,187.07 L414.14,186.62 L414.05,186.16 L413.97,185.7 L413.89,185.25 L413.81,184.79 L413.74,184.34 L413.66,183.88 L413.59,183.42 L413.51,182.97 L413.44,182.51 L413.37,182.06 L413.3,181.6 L413.23,181.14 L413.17,180.69 L413.1,180.23 L413.04,179.78 L412.98,179.32 L412.91,178.86 L412.85,178.41 L412.79,177.95 L412.74,177.5 L412.68,177.04 L412.63,176.58 L412.57,176.13 L412.52,175.67 L412.47,175.22 L412.42,174.76 L412.37,174.31 L412.33,173.85 L412.28,173.39 L412.24,172.94 L412.2,172.48 L412.15,172.03 L412.11,171.57 L412.06,171.11 L412.02,170.66 L411.97,170.2 L411.93,169.75 L411.89,169.29 L411.84,168.83 L411.79,168.38 L411.75,167.92 L411.7,167.47 L411.65,167.01 L411.59,166.55 L411.54,166.1 L411.49,165.64 L411.43,165.19 L411.37,164.73 L411.31,164.27 L411.25,163.82 L411.18,163.36 L411.1,162.91 L411.02,162.45 L410.93,161.99 L410.83,161.54 L410.73,161.08 L410.64,160.63 L410.54,160.17 L410.44,159.71 L410.35,159.26 L410.26,158.8 L410.16,158.35 L410.06,157.89 L409.97,157.43 L409.87,156.98 L409.78,156.52 L409.7,156.07 L409.62,155.61 L409.55,155.15 L409.48,154.7 L409.42,154.24 L409.36,153.79 L409.31,153.33 L409.25,152.87 L409.19,152.42 L409.12,151.96 L409.05,151.51 L408.99,151.05 L408.92,150.59 L408.86,150.14 L408.81,149.68 L408.78,149.23 L408.75,148.77 L408.71,148.31 L408.68,147.86 L408.66,147.4 L408.63,146.95 L408.62,146.49 L408.61,146.03 L408.6,145.58 L408.61,145.12 L408.63,144.67 L408.66,144.21 L408.7,143.75 L408.76,143.3 L408.82,142.84 L408.88,142.39 L408.94,141.93 L409,141.47 L409.07,141.02 L409.14,140.56 L409.22,140.11 L409.31,139.65 L409.4,139.19 L409.5,138.74 L409.61,138.28 L409.72,137.83 L409.83,137.37 L409.96,136.92 L410.11,136.46 L410.26,136 L410.43,135.55 L410.6,135.09 L410.77,134.64 L410.95,134.18 L411.12,133.72 L411.28,133.27 L411.45,132.81 L411.62,132.36 L411.79,131.9 L411.96,131.44 L412.13,130.99 L412.3,130.53 L412.48,130.08 L412.65,129.62 L412.83,129.16 L413.02,128.71 L413.22,128.25 L413.42,127.8 L413.61,127.34 L413.81,126.88 L413.98,126.43 L414.15,125.97 L414.3,125.52 L414.42,125.06 L414.55,124.6 L414.66,124.15 L414.76,123.69 L414.85,123.24 L414.94,122.78 L415.03,122.32 L415.1,121.87 L415.15,121.41 L415.15,120.96 L415.3,120.5Z" fill="#f8bc68"/>
<path d="M415.6,135.5 V164" stroke="#fff" stroke-opacity="0.55" stroke-width="1"/>
<circle cx="415.6" cy="150.4" r="2" fill="#fff"/>
<text x="415.6" y="208.6" text-anchor="middle" class="tk">Ovary</text>
<path d="M487.15,166.5 L487.8,169 L488.3,171.42 L490.4,173.18 L494,175.75 L499.3,177.7 L504.7,178.93 L511.8,180.12 L519,181.8 L511.8,183.62 L504.7,185.02 L499.3,185.9 L494,187.5 L490.4,189 L488.3,190 L487.7,190.8 L487.7,191.5 L487.1,192.5 L486.5,192.5 L485.9,191.5 L485.9,190.8 L485.3,190 L483.2,189 L479.6,187.5 L474.3,185.9 L468.9,185.02 L461.8,183.62 L454.6,181.8 L461.8,180.12 L468.9,178.93 L474.3,177.7 L479.6,175.75 L483.2,173.18 L485.3,171.42 L485.8,169 L486.45,166.5Z" class="nv"/>
<path d="M486.8,121.5 V168.5" stroke="#4a4a4a" stroke-width="1.9" stroke-opacity="0.9" stroke-linecap="round"/>
<circle cx="486.8" cy="181.8" r="2.2" fill="#fff"/>
<path d="M486.8,176.8 V186.8" stroke="#fff" stroke-width="0.9" stroke-opacity="0.8"/>
<text x="486.8" y="208.6" text-anchor="middle" class="tk">Null</text>
<path d="M33.5,217.5 V295" class="axl"/>
<path d="M29.5,217.5 H33.5" class="axl"/>
<text x="27.5" y="219.95" text-anchor="end" class="tk">1.00</text>
<path d="M29.5,233 H33.5" class="axl"/>
<text x="27.5" y="235.45" text-anchor="end" class="tk">0.75</text>
<path d="M29.5,248.5 H33.5" class="axl"/>
<text x="27.5" y="250.95" text-anchor="end" class="tk">0.50</text>
<path d="M29.5,264 H33.5" class="axl"/>
<text x="27.5" y="266.45" text-anchor="end" class="tk">0.25</text>
<path d="M29.5,279.5 H33.5" class="axl"/>
<text x="27.5" y="281.95" text-anchor="end" class="tk">0.00</text>
<path d="M29.5,295 H33.5" class="axl"/>
<text x="27.5" y="297.45" text-anchor="end" class="tk">-0.25</text>
<text x="7.35" y="256.2" transform="rotate(-90 7.35 256.2)" text-anchor="middle" class="tk">ICC</text>
<path d="M65.9,218 L66.05,218.46 L66.08,218.92 L66.18,219.38 L66.27,219.84 L66.36,220.3 L66.45,220.76 L66.54,221.22 L66.63,221.68 L66.72,222.14 L66.82,222.6 L66.91,223.06 L67.02,223.52 L67.13,223.98 L67.24,224.45 L67.36,224.91 L67.47,225.37 L67.59,225.83 L67.71,226.29 L67.83,226.75 L67.95,227.21 L68.08,227.67 L68.21,228.13 L68.33,228.59 L68.46,229.05 L68.59,229.51 L68.72,229.97 L68.85,230.43 L68.97,230.89 L69.09,231.35 L69.21,231.81 L69.33,232.27 L69.45,232.73 L69.57,233.19 L69.68,233.65 L69.8,234.11 L69.9,234.57 L70.01,235.03 L70.11,235.49 L70.21,235.95 L70.32,236.42 L70.42,236.88 L70.51,237.34 L70.6,237.8 L70.69,238.26 L70.76,238.72 L70.82,239.18 L70.88,239.64 L70.94,240.1 L70.99,240.56 L71.04,241.02 L71.08,241.48 L71.12,241.94 L71.16,242.4 L71.19,242.86 L71.22,243.32 L71.25,243.78 L71.29,244.24 L71.32,244.7 L71.34,245.16 L71.37,245.62 L71.38,246.08 L71.4,246.54 L71.4,247 L71.4,247.46 L71.4,247.92 L71.4,248.38 L71.4,248.85 L71.4,249.31 L71.4,249.77 L71.4,250.23 L71.39,250.69 L71.38,251.15 L71.37,251.61 L71.35,252.07 L71.33,252.53 L71.3,252.99 L71.25,253.45 L71.14,253.91 L70.99,254.37 L70.83,254.83 L70.64,255.29 L70.47,255.75 L70.3,256.21 L70.17,256.67 L70.08,257.13 L70,257.59 L69.93,258.05 L69.86,258.51 L69.79,258.97 L69.74,259.43 L69.69,259.89 L69.65,260.35 L69.61,260.82 L69.58,261.28 L69.56,261.74 L69.53,262.2 L69.51,262.66 L69.49,263.12 L69.47,263.58 L69.46,264.04 L69.45,264.5 L69.45,264.96 L69.45,265.42 L69.45,265.88 L69.45,266.34 L69.45,266.8 L69.45,267.26 L69.45,267.72 L69.45,268.18 L69.45,268.64 L69.45,269.1 L69.44,269.56 L69.43,270.02 L69.41,270.48 L69.39,270.94 L69.36,271.4 L69.33,271.86 L69.3,272.32 L69.27,272.78 L69.23,273.25 L69.19,273.71 L69.15,274.17 L69.1,274.63 L69.05,275.09 L69,275.55 L68.94,276.01 L68.88,276.47 L68.81,276.93 L68.74,277.39 L68.66,277.85 L68.58,278.31 L68.49,278.77 L68.39,279.23 L68.29,279.69 L68.19,280.15 L68.09,280.61 L67.98,281.07 L67.88,281.53 L67.77,281.99 L67.65,282.45 L67.53,282.91 L67.41,283.37 L67.29,283.83 L67.18,284.29 L67.06,284.75 L66.95,285.22 L66.83,285.68 L66.71,286.14 L66.59,286.6 L66.49,287.06 L66.4,287.52 L66.32,287.98 L66.24,288.44 L66.17,288.9 L66.1,289.36 L66.05,289.82 L66.05,290.28 L66.05,290.74 L65.9,291.2 L65.3,291.2 L65.15,290.74 L65.15,290.28 L65.15,289.82 L65.1,289.36 L65.03,288.9 L64.96,288.44 L64.88,287.98 L64.8,287.52 L64.71,287.06 L64.61,286.6 L64.49,286.14 L64.37,285.68 L64.25,285.22 L64.14,284.75 L64.02,284.29 L63.91,283.83 L63.79,283.37 L63.67,282.91 L63.55,282.45 L63.43,281.99 L63.32,281.53 L63.22,281.07 L63.11,280.61 L63.01,280.15 L62.91,279.69 L62.81,279.23 L62.71,278.77 L62.62,278.31 L62.54,277.85 L62.46,277.39 L62.39,276.93 L62.32,276.47 L62.26,276.01 L62.2,275.55 L62.15,275.09 L62.1,274.63 L62.05,274.17 L62.01,273.71 L61.97,273.25 L61.93,272.78 L61.9,272.32 L61.87,271.86 L61.84,271.4 L61.81,270.94 L61.79,270.48 L61.77,270.02 L61.76,269.56 L61.75,269.1 L61.75,268.64 L61.75,268.18 L61.75,267.72 L61.75,267.26 L61.75,266.8 L61.75,266.34 L61.75,265.88 L61.75,265.42 L61.75,264.96 L61.75,264.5 L61.74,264.04 L61.73,263.58 L61.71,263.12 L61.69,262.66 L61.67,262.2 L61.64,261.74 L61.62,261.28 L61.59,260.82 L61.55,260.35 L61.51,259.89 L61.46,259.43 L61.41,258.97 L61.34,258.51 L61.27,258.05 L61.2,257.59 L61.12,257.13 L61.03,256.67 L60.9,256.21 L60.73,255.75 L60.56,255.29 L60.37,254.83 L60.21,254.37 L60.06,253.91 L59.95,253.45 L59.9,252.99 L59.87,252.53 L59.85,252.07 L59.83,251.61 L59.82,251.15 L59.81,250.69 L59.8,250.23 L59.8,249.77 L59.8,249.31 L59.8,248.85 L59.8,248.38 L59.8,247.92 L59.8,247.46 L59.8,247 L59.8,246.54 L59.82,246.08 L59.83,245.62 L59.86,245.16 L59.88,244.7 L59.91,244.24 L59.95,243.78 L59.98,243.32 L60.01,242.86 L60.04,242.4 L60.08,241.94 L60.12,241.48 L60.16,241.02 L60.21,240.56 L60.26,240.1 L60.32,239.64 L60.38,239.18 L60.44,238.72 L60.51,238.26 L60.6,237.8 L60.69,237.34 L60.78,236.88 L60.88,236.42 L60.99,235.95 L61.09,235.49 L61.19,235.03 L61.3,234.57 L61.4,234.11 L61.52,233.65 L61.63,233.19 L61.75,232.73 L61.87,232.27 L61.99,231.81 L62.11,231.35 L62.23,230.89 L62.35,230.43 L62.48,229.97 L62.61,229.51 L62.74,229.05 L62.87,228.59 L62.99,228.13 L63.12,227.67 L63.25,227.21 L63.37,226.75 L63.49,226.29 L63.61,225.83 L63.73,225.37 L63.84,224.91 L63.96,224.45 L64.07,223.98 L64.18,223.52 L64.29,223.06 L64.38,222.6 L64.48,222.14 L64.57,221.68 L64.66,221.22 L64.75,220.76 L64.84,220.3 L64.93,219.84 L65.02,219.38 L65.12,218.92 L65.15,218.46 L65.3,218Z" fill="#74643f"/>
<path d="M65.6,232.5 V264.5" stroke="#f4e6a8" stroke-opacity="0.8" stroke-width="1"/>
<circle cx="65.6" cy="249" r="2" fill="#fff"/>
<text x="65.6" y="306.1" text-anchor="middle" class="tk">Kidney</text>
<path d="M137.15,266 L138,268.5 L138,269.68 L139,271.44 L141.2,272.99 L145.1,275.38 L149.9,276.53 L154.7,277.24 L161.8,278.36 L169,279.8 L161.8,281.24 L154.7,282.36 L149.9,283.07 L145.1,284.19 L141.2,285.26 L138.8,286 L137.8,287.1 L137.7,288 L137.1,289 L136.5,289 L135.9,288 L135.8,287.1 L134.8,286 L132.4,285.26 L128.5,284.19 L123.7,283.07 L118.9,282.36 L111.8,281.24 L104.6,279.8 L111.8,278.36 L118.9,277.24 L123.7,276.53 L128.5,275.38 L132.4,272.99 L134.6,271.44 L135.6,269.68 L135.6,268.5 L136.45,266Z" class="nv"/>
<path d="M136.8,250.3 V268" stroke="#4a4a4a" stroke-width="1.1" stroke-opacity="0.9" stroke-linecap="round"/>
<circle cx="136.8" cy="279.8" r="2.2" fill="#fff"/>
<path d="M136.8,276.3 V283.3" stroke="#fff" stroke-width="0.9" stroke-opacity="0.8"/>
<text x="136.8" y="306.1" text-anchor="middle" class="tk">Null</text>
<path d="M208.5,217.5 V295" class="axl"/>
<path d="M204.5,217.5 H208.5" class="axl"/>
<text x="202.5" y="219.95" text-anchor="end" class="tk">1.00</text>
<path d="M204.5,233 H208.5" class="axl"/>
<text x="202.5" y="235.45" text-anchor="end" class="tk">0.75</text>
<path d="M204.5,248.5 H208.5" class="axl"/>
<text x="202.5" y="250.95" text-anchor="end" class="tk">0.50</text>
<path d="M204.5,264 H208.5" class="axl"/>
<text x="202.5" y="266.45" text-anchor="end" class="tk">0.25</text>
<path d="M204.5,279.5 H208.5" class="axl"/>
<text x="202.5" y="281.95" text-anchor="end" class="tk">0.00</text>
<path d="M204.5,295 H208.5" class="axl"/>
<text x="202.5" y="297.45" text-anchor="end" class="tk">-0.25</text>
<text x="182.35" y="256.2" transform="rotate(-90 182.35 256.2)" text-anchor="middle" class="tk">ICC</text>
<path d="M240.9,218.3 L241.24,218.76 L241.46,219.22 L241.49,219.68 L241.4,220.13 L241.3,220.59 L241.25,221.05 L241.26,221.51 L241.27,221.97 L241.28,222.43 L241.3,222.88 L241.31,223.34 L241.32,223.8 L241.33,224.26 L241.34,224.72 L241.35,225.18 L241.36,225.64 L241.37,226.09 L241.39,226.55 L241.4,227.01 L241.42,227.47 L241.44,227.93 L241.46,228.39 L241.49,228.85 L241.52,229.3 L241.55,229.76 L241.59,230.22 L241.62,230.68 L241.66,231.14 L241.71,231.6 L241.76,232.05 L241.81,232.51 L241.87,232.97 L241.93,233.43 L242,233.89 L242.06,234.35 L242.12,234.81 L242.18,235.26 L242.25,235.72 L242.31,236.18 L242.37,236.64 L242.43,237.1 L242.5,237.56 L242.56,238.02 L242.62,238.47 L242.69,238.93 L242.76,239.39 L242.82,239.85 L242.89,240.31 L242.96,240.77 L243.03,241.22 L243.1,241.68 L243.17,242.14 L243.24,242.6 L243.31,243.06 L243.38,243.52 L243.45,243.98 L243.52,244.43 L243.59,244.89 L243.66,245.35 L243.73,245.81 L243.8,246.27 L243.86,246.73 L243.93,247.18 L243.99,247.64 L244.06,248.1 L244.12,248.56 L244.19,249.02 L244.25,249.48 L244.3,249.94 L244.35,250.39 L244.39,250.85 L244.42,251.31 L244.45,251.77 L244.47,252.23 L244.49,252.69 L244.51,253.15 L244.53,253.6 L244.55,254.06 L244.57,254.52 L244.6,254.98 L244.63,255.44 L244.65,255.9 L244.68,256.35 L244.71,256.81 L244.74,257.27 L244.78,257.73 L244.82,258.19 L244.88,258.65 L244.96,259.11 L245.04,259.56 L245.12,260.02 L245.17,260.48 L245.2,260.94 L245.19,261.4 L245.16,261.86 L245.11,262.32 L245.05,262.77 L244.99,263.23 L244.94,263.69 L244.89,264.15 L244.86,264.61 L244.85,265.07 L244.85,265.52 L244.85,265.98 L244.85,266.44 L244.85,266.9 L244.85,267.36 L244.85,267.82 L244.85,268.28 L244.85,268.73 L244.85,269.19 L244.85,269.65 L244.86,270.11 L244.87,270.57 L244.88,271.03 L244.88,271.48 L244.89,271.94 L244.9,272.4 L244.9,272.86 L244.9,273.32 L244.89,273.78 L244.87,274.24 L244.85,274.69 L244.81,275.15 L244.78,275.61 L244.74,276.07 L244.7,276.53 L244.65,276.99 L244.59,277.45 L244.52,277.9 L244.42,278.36 L244.31,278.82 L244.18,279.28 L244.04,279.74 L243.89,280.2 L243.73,280.65 L243.56,281.11 L243.33,281.57 L243.07,282.03 L242.79,282.49 L242.52,282.95 L242.31,283.41 L242.1,283.86 L241.91,284.32 L241.76,284.78 L241.65,285.24 L241.56,285.7 L241.48,286.16 L241.42,286.62 L241.36,287.07 L241.3,287.53 L241.24,287.99 L241.18,288.45 L241.13,288.91 L241.07,289.37 L241.05,289.82 L241.05,290.28 L241.05,290.74 L240.9,291.2 L240.3,291.2 L240.15,290.74 L240.15,290.28 L240.15,289.82 L240.13,289.37 L240.07,288.91 L240.02,288.45 L239.96,287.99 L239.9,287.53 L239.84,287.07 L239.78,286.62 L239.72,286.16 L239.64,285.7 L239.55,285.24 L239.44,284.78 L239.29,284.32 L239.1,283.86 L238.89,283.41 L238.68,282.95 L238.41,282.49 L238.13,282.03 L237.87,281.57 L237.64,281.11 L237.47,280.65 L237.31,280.2 L237.16,279.74 L237.02,279.28 L236.89,278.82 L236.78,278.36 L236.68,277.9 L236.61,277.45 L236.55,276.99 L236.5,276.53 L236.46,276.07 L236.42,275.61 L236.39,275.15 L236.35,274.69 L236.33,274.24 L236.31,273.78 L236.3,273.32 L236.3,272.86 L236.3,272.4 L236.31,271.94 L236.32,271.48 L236.32,271.03 L236.33,270.57 L236.34,270.11 L236.35,269.65 L236.35,269.19 L236.35,268.73 L236.35,268.28 L236.35,267.82 L236.35,267.36 L236.35,266.9 L236.35,266.44 L236.35,265.98 L236.35,265.52 L236.35,265.07 L236.34,264.61 L236.31,264.15 L236.26,263.69 L236.21,263.23 L236.15,262.77 L236.09,262.32 L236.04,261.86 L236.01,261.4 L236,260.94 L236.03,260.48 L236.08,260.02 L236.16,259.56 L236.24,259.11 L236.32,258.65 L236.38,258.19 L236.42,257.73 L236.46,257.27 L236.49,256.81 L236.52,256.35 L236.55,255.9 L236.57,255.44 L236.6,254.98 L236.63,254.52 L236.65,254.06 L236.67,253.6 L236.69,253.15 L236.71,252.69 L236.73,252.23 L236.75,251.77 L236.78,251.31 L236.81,250.85 L236.85,250.39 L236.9,249.94 L236.95,249.48 L237.01,249.02 L237.08,248.56 L237.14,248.1 L237.21,247.64 L237.27,247.18 L237.34,246.73 L237.4,246.27 L237.47,245.81 L237.54,245.35 L237.61,244.89 L237.68,244.43 L237.75,243.98 L237.82,243.52 L237.89,243.06 L237.96,242.6 L238.03,242.14 L238.1,241.68 L238.17,241.22 L238.24,240.77 L238.31,240.31 L238.38,239.85 L238.44,239.39 L238.51,238.93 L238.58,238.47 L238.64,238.02 L238.7,237.56 L238.77,237.1 L238.83,236.64 L238.89,236.18 L238.95,235.72 L239.02,235.26 L239.08,234.81 L239.14,234.35 L239.2,233.89 L239.27,233.43 L239.33,232.97 L239.39,232.51 L239.44,232.05 L239.49,231.6 L239.54,231.14 L239.58,230.68 L239.61,230.22 L239.65,229.76 L239.68,229.3 L239.71,228.85 L239.74,228.39 L239.76,227.93 L239.78,227.47 L239.8,227.01 L239.81,226.55 L239.83,226.09 L239.84,225.64 L239.85,225.18 L239.86,224.72 L239.87,224.26 L239.88,223.8 L239.89,223.34 L239.9,222.88 L239.92,222.43 L239.93,221.97 L239.94,221.51 L239.95,221.05 L239.9,220.59 L239.8,220.13 L239.71,219.68 L239.74,219.22 L239.96,218.76 L240.3,218.3Z" fill="#2d4b87"/>
<path d="M240.6,246 V271.5" stroke="#fff" stroke-opacity="0.7" stroke-width="1"/>
<circle cx="240.6" cy="260.3" r="2" fill="#fff"/>
<text x="240.6" y="306.1" text-anchor="middle" class="tk">LI</text>
<path d="M312.15,266 L312.9,268.5 L312.9,272.12 L314,273.79 L316.2,275.02 L320.1,276.43 L324.9,277.1 L329.7,277.5 L336.8,278.3 L343.9,279.6 L336.8,280.9 L329.7,281.8 L324.9,282.2 L320.1,282.9 L316.2,283.7 L313.8,284.4 L312.8,285.2 L312.7,286.4 L312.1,287.4 L311.5,287.4 L310.9,286.4 L310.8,285.2 L309.8,284.4 L307.4,283.7 L303.5,282.9 L298.7,282.2 L293.9,281.8 L286.8,280.9 L279.7,279.6 L286.8,278.3 L293.9,277.5 L298.7,277.1 L303.5,276.43 L307.4,275.02 L309.6,273.79 L310.7,272.12 L310.7,268.5 L311.45,266Z" class="nv"/>
<path d="M311.8,235 V268" stroke="#4a4a4a" stroke-width="1.15" stroke-opacity="0.9" stroke-linecap="round"/>
<circle cx="311.8" cy="279.6" r="2.2" fill="#fff"/>
<text x="311.8" y="306.1" text-anchor="middle" class="tk">Null</text>
<path d="M383.5,217.5 V295" class="axl"/>
<path d="M379.5,217.5 H383.5" class="axl"/>
<text x="377.5" y="219.95" text-anchor="end" class="tk">1.00</text>
<path d="M379.5,233 H383.5" class="axl"/>
<text x="377.5" y="235.45" text-anchor="end" class="tk">0.75</text>
<path d="M379.5,248.5 H383.5" class="axl"/>
<text x="377.5" y="250.95" text-anchor="end" class="tk">0.50</text>
<path d="M379.5,264 H383.5" class="axl"/>
<text x="377.5" y="266.45" text-anchor="end" class="tk">0.25</text>
<path d="M379.5,279.5 H383.5" class="axl"/>
<text x="377.5" y="281.95" text-anchor="end" class="tk">0.00</text>
<path d="M379.5,295 H383.5" class="axl"/>
<text x="377.5" y="297.45" text-anchor="end" class="tk">-0.25</text>
<text x="357.35" y="256.2" transform="rotate(-90 357.35 256.2)" text-anchor="middle" class="tk">ICC</text>
<path d="M415.9,218 L416.05,218.46 L416.05,218.92 L416.1,219.38 L416.18,219.84 L416.26,220.3 L416.35,220.76 L416.45,221.22 L416.55,221.68 L416.66,222.14 L416.78,222.6 L416.92,223.06 L417.08,223.52 L417.28,223.98 L417.49,224.45 L417.73,224.91 L417.97,225.37 L418.21,225.83 L418.45,226.29 L418.68,226.75 L418.9,227.21 L419.11,227.67 L419.33,228.13 L419.54,228.59 L419.76,229.05 L419.97,229.51 L420.17,229.97 L420.37,230.43 L420.56,230.89 L420.74,231.35 L420.92,231.81 L421.1,232.27 L421.27,232.73 L421.44,233.19 L421.6,233.65 L421.75,234.11 L421.89,234.57 L422.01,235.03 L422.13,235.49 L422.24,235.95 L422.35,236.42 L422.46,236.88 L422.56,237.34 L422.64,237.8 L422.72,238.26 L422.77,238.72 L422.81,239.18 L422.85,239.64 L422.88,240.1 L422.91,240.56 L422.94,241.02 L422.96,241.48 L422.98,241.94 L422.99,242.4 L423,242.86 L423,243.32 L422.99,243.78 L422.97,244.24 L422.95,244.7 L422.93,245.16 L422.9,245.62 L422.87,246.08 L422.83,246.54 L422.8,247 L422.76,247.46 L422.71,247.92 L422.64,248.38 L422.58,248.85 L422.51,249.31 L422.44,249.77 L422.37,250.23 L422.3,250.69 L422.24,251.15 L422.17,251.61 L422.09,252.07 L422.01,252.53 L421.9,252.99 L421.75,253.45 L421.54,253.91 L421.28,254.37 L421,254.83 L420.71,255.29 L420.43,255.75 L420.19,256.21 L420,256.67 L419.87,257.13 L419.77,257.59 L419.69,258.05 L419.61,258.51 L419.54,258.97 L419.48,259.43 L419.42,259.89 L419.37,260.35 L419.32,260.82 L419.27,261.28 L419.22,261.74 L419.18,262.2 L419.13,262.66 L419.09,263.12 L419.05,263.58 L419.03,264.04 L419.01,264.5 L419,264.96 L419,265.42 L419,265.88 L419,266.34 L419,266.8 L419,267.26 L419,267.72 L419,268.18 L419,268.64 L419,269.1 L418.99,269.56 L418.98,270.02 L418.96,270.48 L418.94,270.94 L418.91,271.4 L418.88,271.86 L418.85,272.32 L418.81,272.78 L418.78,273.25 L418.75,273.71 L418.71,274.17 L418.67,274.63 L418.62,275.09 L418.57,275.55 L418.52,276.01 L418.47,276.47 L418.41,276.93 L418.35,277.39 L418.28,277.85 L418.2,278.31 L418.12,278.77 L418.04,279.23 L417.95,279.69 L417.86,280.15 L417.77,280.61 L417.69,281.07 L417.6,281.53 L417.51,281.99 L417.42,282.45 L417.33,282.91 L417.24,283.37 L417.15,283.83 L417.05,284.29 L416.95,284.75 L416.85,285.22 L416.73,285.68 L416.61,286.14 L416.49,286.6 L416.38,287.06 L416.3,287.52 L416.23,287.98 L416.16,288.44 L416.1,288.9 L416.05,289.36 L416.05,289.82 L416.05,290.28 L416.05,290.74 L415.9,291.2 L415.3,291.2 L415.15,290.74 L415.15,290.28 L415.15,289.82 L415.15,289.36 L415.1,288.9 L415.04,288.44 L414.97,287.98 L414.9,287.52 L414.82,287.06 L414.71,286.6 L414.59,286.14 L414.47,285.68 L414.35,285.22 L414.25,284.75 L414.15,284.29 L414.05,283.83 L413.96,283.37 L413.87,282.91 L413.78,282.45 L413.69,281.99 L413.6,281.53 L413.51,281.07 L413.43,280.61 L413.34,280.15 L413.25,279.69 L413.16,279.23 L413.08,278.77 L413,278.31 L412.92,277.85 L412.85,277.39 L412.79,276.93 L412.73,276.47 L412.68,276.01 L412.63,275.55 L412.58,275.09 L412.53,274.63 L412.49,274.17 L412.45,273.71 L412.42,273.25 L412.39,272.78 L412.35,272.32 L412.32,271.86 L412.29,271.4 L412.26,270.94 L412.24,270.48 L412.22,270.02 L412.21,269.56 L412.2,269.1 L412.2,268.64 L412.2,268.18 L412.2,267.72 L412.2,267.26 L412.2,266.8 L412.2,266.34 L412.2,265.88 L412.2,265.42 L412.2,264.96 L412.19,264.5 L412.17,264.04 L412.15,263.58 L412.11,263.12 L412.07,262.66 L412.02,262.2 L411.98,261.74 L411.93,261.28 L411.88,260.82 L411.83,260.35 L411.78,259.89 L411.72,259.43 L411.66,258.97 L411.59,258.51 L411.51,258.05 L411.43,257.59 L411.33,257.13 L411.2,256.67 L411.01,256.21 L410.77,255.75 L410.49,255.29 L410.2,254.83 L409.92,254.37 L409.66,253.91 L409.45,253.45 L409.3,252.99 L409.19,252.53 L409.11,252.07 L409.03,251.61 L408.96,251.15 L408.9,250.69 L408.83,250.23 L408.76,249.77 L408.69,249.31 L408.62,248.85 L408.56,248.38 L408.49,247.92 L408.44,247.46 L408.4,247 L408.37,246.54 L408.33,246.08 L408.3,245.62 L408.27,245.16 L408.25,244.7 L408.23,244.24 L408.21,243.78 L408.2,243.32 L408.2,242.86 L408.21,242.4 L408.22,241.94 L408.24,241.48 L408.26,241.02 L408.29,240.56 L408.32,240.1 L408.35,239.64 L408.39,239.18 L408.43,238.72 L408.48,238.26 L408.56,237.8 L408.64,237.34 L408.74,236.88 L408.85,236.42 L408.96,235.95 L409.07,235.49 L409.19,235.03 L409.31,234.57 L409.45,234.11 L409.6,233.65 L409.76,233.19 L409.93,232.73 L410.1,232.27 L410.28,231.81 L410.46,231.35 L410.64,230.89 L410.83,230.43 L411.03,229.97 L411.23,229.51 L411.44,229.05 L411.66,228.59 L411.87,228.13 L412.09,227.67 L412.3,227.21 L412.52,226.75 L412.75,226.29 L412.99,225.83 L413.23,225.37 L413.47,224.91 L413.71,224.45 L413.92,223.98 L414.12,223.52 L414.28,223.06 L414.42,222.6 L414.54,222.14 L414.65,221.68 L414.75,221.22 L414.85,220.76 L414.94,220.3 L415.02,219.84 L415.1,219.38 L415.15,218.92 L415.15,218.46 L415.3,218Z" fill="#4ab845"/>
<path d="M415.6,229.5 V261.2" stroke="#c8f5bf" stroke-opacity="0.85" stroke-width="1"/>
<circle cx="415.6" cy="245.8" r="2" fill="#fff"/>
<text x="415.6" y="306.1" text-anchor="middle" class="tk">Soft tissue</text>
<path d="M487.15,263 L487.8,265.5 L488.3,267.71 L490.4,269.38 L494,272.36 L499.3,274.4 L504.7,275.58 L511.8,276.91 L519,278.8 L511.8,280.48 L504.7,281.67 L499.3,282.53 L494,284.04 L490.4,285.5 L488.3,286.6 L487.7,287.4 L487.7,288.1 L487.1,289.1 L486.5,289.1 L485.9,288.1 L485.9,287.4 L485.3,286.6 L483.2,285.5 L479.6,284.04 L474.3,282.53 L468.9,281.67 L461.8,280.48 L454.6,278.8 L461.8,276.91 L468.9,275.58 L474.3,274.4 L479.6,272.36 L483.2,269.38 L485.3,267.71 L485.8,265.5 L486.45,263Z" class="nv"/>
<path d="M486.8,219 V265" stroke="#4a4a4a" stroke-width="1.9" stroke-opacity="0.9" stroke-linecap="round"/>
<circle cx="486.8" cy="278.8" r="2.2" fill="#fff"/>
<path d="M486.8,273.8 V283.8" stroke="#fff" stroke-width="0.9" stroke-opacity="0.8"/>
<text x="486.8" y="306.1" text-anchor="middle" class="tk">Null</text>
<rect x="204.5" y="347.5" width="134.3" height="10" class="bar"/>
<text x="199.6" y="355.3" text-anchor="end" class="lb" xml:space="preserve">Viral messenger RNA synthesis</text>
<rect x="204.5" y="359.98" width="134.3" height="10" class="bar"/>
<text x="199.6" y="367.78" text-anchor="end" class="lb" xml:space="preserve">G2 M DNA damage checkpoint</text>
<rect x="204.5" y="372.46" width="145.9" height="10" class="bar"/>
<text x="199.6" y="380.26" text-anchor="end" class="lb" xml:space="preserve">Regulatory RNA pathways</text>
<rect x="204.5" y="384.94" width="149.7" height="10" class="bar"/>
<text x="199.6" y="392.74" text-anchor="end" class="lb" xml:space="preserve">Transport of mature transcript to cytoplasm</text>
<rect x="204.5" y="397.42" width="159.3" height="10" class="bar"/>
<text x="199.6" y="405.22" text-anchor="end" class="lb" xml:space="preserve">Formation of RNA Pol II elongation complex </text>
<rect x="204.5" y="409.9" width="200.5" height="10" class="bar"/>
<text x="199.6" y="417.7" text-anchor="end" class="lb" xml:space="preserve">Olfactory signaling pathway</text>
<rect x="204.5" y="422.38" width="252.4" height="10" class="bar"/>
<text x="199.6" y="430.18" text-anchor="end" class="lb" xml:space="preserve">Cleavage of growing transcript in the termination region </text>
<rect x="204.5" y="434.86" width="252.6" height="10" class="bar"/>
<text x="199.6" y="442.66" text-anchor="end" class="lb" xml:space="preserve">mRNA splicing minor pathway</text>
<rect x="204.5" y="447.34" width="261.3" height="10" class="bar"/>
<text x="199.6" y="455.14" text-anchor="end" class="lb" xml:space="preserve">Elongation arrest and recovery</text>
<rect x="204.5" y="459.82" width="315" height="10" class="bar"/>
<text x="199.6" y="467.62" text-anchor="end" class="lb" xml:space="preserve">mRNA 3 end processing</text>
<path d="M204.5,478 H507.4" class="axl"/>
<path d="M204.5,478 V482.5" class="axl"/>
<text x="204.5" y="494.8" text-anchor="middle" class="ax">0.0</text>
<path d="M305.47,478 V482.5" class="axl"/>
<text x="305.47" y="494.8" text-anchor="middle" class="ax">0.5</text>
<path d="M406.44,478 V482.5" class="axl"/>
<text x="406.44" y="494.8" text-anchor="middle" class="ax">1.0</text>
<path d="M507.41,478 V482.5" class="axl"/>
<text x="507.41" y="494.8" text-anchor="middle" class="ax">1.5</text>
<text x="343.5" y="501.3" class="ax">–log<tspan font-size="5" dy="1.6">10</tspan><tspan dy="-1.6">(fdr)</tspan></text>
<text x="0.6" y="11.5" class="pl">A</text>
<text x="0.7" y="333.4" class="pl">B</text>
</g>
</svg>
</body></html>
